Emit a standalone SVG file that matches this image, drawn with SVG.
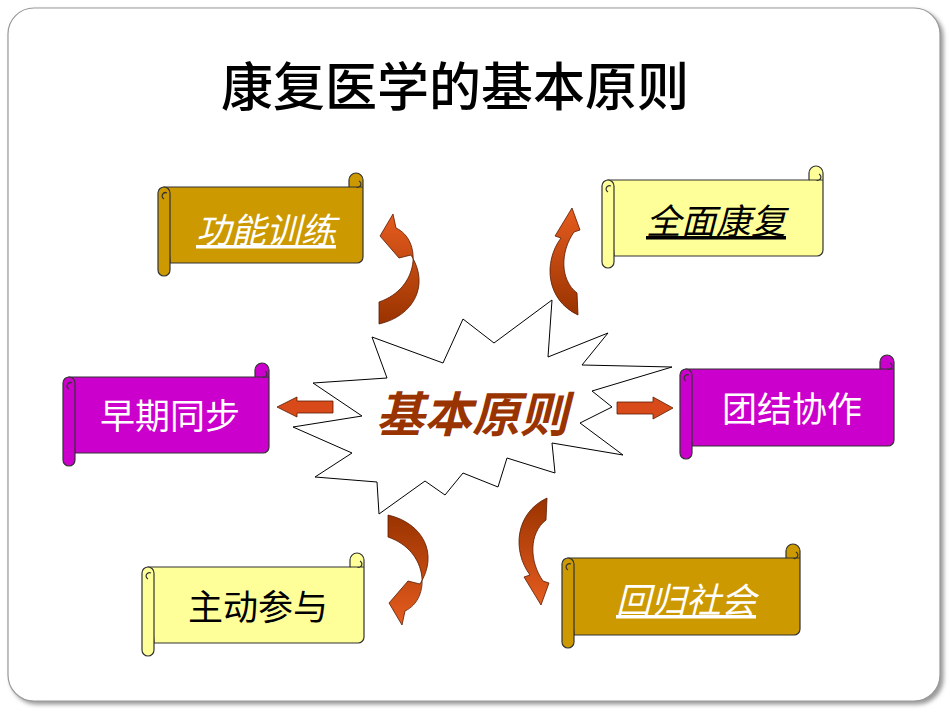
<svg xmlns="http://www.w3.org/2000/svg" width="950" height="713" viewBox="0 0 950 713">
<defs>
<linearGradient id="ga" x1="0" y1="1" x2="0" y2="0"><stop offset="0" stop-color="#993300"/><stop offset="1" stop-color="#E65C1F"/></linearGradient>
<filter id="sh" x="-5%" y="-5%" width="110%" height="110%"><feDropShadow dx="3" dy="3" stdDeviation="2" flood-color="#999"/></filter>
</defs>
<style>
.sc{stroke:#333;stroke-width:1.2}
.gold{fill:#CC9900}.yel{fill:#FFFF99}.mag{fill:#CC00CC}
.t{font-family:"Noto Sans CJK SC","Liberation Sans",sans-serif;font-size:35px;text-anchor:middle}
.it{font-style:italic;text-decoration:underline}
.arr{fill:url(#ga);stroke:#5a1a00;stroke-width:0.8}
.sa{fill:#D94A1A;stroke:#5a1a00;stroke-width:0.8}
</style>
<rect x="8" y="8" width="932" height="693" rx="26" fill="#fff" stroke="#999" stroke-width="1.2" filter="url(#sh)"/>
<text x="455" y="106" font-family="Noto Sans CJK SC,Liberation Sans,sans-serif" font-size="52" font-weight="500" text-anchor="middle" fill="#000">康复医学的基本原则</text>

<g id="star">
<polygon points="372,337 387,378 313,383 362,416 293,427 352,453 315,477 377,482 379,514 425,481 445,495 463,473 498,487 507,458 555,473 552,443 623,455 580,423 612,407 592,391 672,367 582,365 608,333 548,357 552,300 494,343 463,319 443,363" fill="#fff" stroke="#000" stroke-width="1"/>
<text x="472" y="432" font-family="Noto Sans CJK SC,Liberation Sans,sans-serif" font-size="48" font-style="italic" font-weight="bold" fill="#993300" text-anchor="middle">基本原则</text>
</g>

<g id="connectors">
<path class="arr" d="M379,324 C414,316 430,285 411,255 L399,258 L380,236 L393,214 L396,228 C422,240 420,288 379,302 Z"/>
<path class="arr" transform="translate(9,839) scale(1,-1)" d="M379,324 C414,316 430,285 411,255 L399,258 L380,236 L393,214 L396,228 C422,240 420,288 379,302 Z"/>
<path class="arr" d="M578,315 C546,300 543,262 561,238 L555,236 L572,208 L580,230 L574,232 C560,252 560,280 577,293 Z"/>
<path class="arr" transform="translate(-31,813) scale(1,-1)" d="M578,315 C546,300 543,262 561,238 L555,236 L572,208 L580,230 L574,232 C560,252 560,280 577,293 Z"/>
<path class="sa" d="M333,401 L297,401 L297,397 L277,407 L297,417 L297,413 L333,413 Z"/>
<path class="sa" d="M617,402 L653,402 L653,397 L673,408 L653,419 L653,414 L617,414 Z"/>
</g>

<g id="n1">
<path class="gold sc" d="M164,187 L349,187 L349,180 A6,6 0 0 1 363,180 L363,257 A6,6 0 0 1 357,263 L170,263 Z"/>
<path class="gold sc" d="M158,193 A6,6 0 0 1 170,193 L170,270 A6,6 0 0 1 158,270 Z"/>
<path fill="none" class="sc" d="M164,199 A3,3 0 1 1 167,193 M356,187 A3,3 0 1 0 359,181 M349,187 L363,187"/>
<text class="t it" x="266" y="243" fill="#fff">功能训练</text>
</g>
<g id="n2">
<path class="yel sc" d="M608,180 L809,180 L809,173 A6,6 0 0 1 823,173 L823,250 A6,6 0 0 1 817,256 L614,256 Z"/>
<path class="yel sc" d="M602,186 A6,6 0 0 1 614,186 L614,262 A6,6 0 0 1 602,262 Z"/>
<path fill="none" class="sc" d="M608,192 A3,3 0 1 1 611,186 M816,180 A3,3 0 1 0 819,174 M809,180 L823,180"/>
<text class="t it" x="716" y="234" fill="#000">全面康复</text>
</g>
<g id="n3">
<path class="mag sc" d="M69,377 L255,377 L255,370 A6,6 0 0 1 269,370 L269,447 A6,6 0 0 1 263,453 L75,453 Z"/>
<path class="mag sc" d="M63,383 A6,6 0 0 1 75,383 L75,460 A6,6 0 0 1 63,460 Z"/>
<path fill="none" class="sc" d="M69,389 A3,3 0 1 1 72,383 M262,377 A3,3 0 1 0 265,371 M255,377 L269,377"/>
<text class="t" x="170" y="429" fill="#fff">早期同步</text>
</g>
<g id="n4">
<path class="mag sc" d="M686,369 L880,369 L880,362 A6,6 0 0 1 894,362 L894,440 A6,6 0 0 1 888,446 L692,446 Z"/>
<path class="mag sc" d="M680,375 A6,6 0 0 1 692,375 L692,453 A6,6 0 0 1 680,453 Z"/>
<path fill="none" class="sc" d="M686,381 A3,3 0 1 1 689,375 M887,369 A3,3 0 1 0 890,363 M880,369 L894,369"/>
<text class="t" x="792" y="422" fill="#fff">团结协作</text>
</g>
<g id="n5">
<path class="yel sc" d="M148,567 L350,567 L350,560 A6,6 0 0 1 364,560 L364,637 A6,6 0 0 1 358,643 L154,643 Z"/>
<path class="yel sc" d="M142,573 A6,6 0 0 1 154,573 L154,650 A6,6 0 0 1 142,650 Z"/>
<path fill="none" class="sc" d="M148,579 A3,3 0 1 1 151,573 M357,567 A3,3 0 1 0 360,561 M350,567 L364,567"/>
<text class="t" x="258" y="620" fill="#000">主动参与</text>
</g>
<g id="n6">
<path class="gold sc" d="M568,558 L786,558 L786,551 A6,6 0 0 1 800,551 L800,629 A6,6 0 0 1 794,635 L574,635 Z"/>
<path class="gold sc" d="M562,564 A6,6 0 0 1 574,564 L574,642 A6,6 0 0 1 562,642 Z"/>
<path fill="none" class="sc" d="M568,570 A3,3 0 1 1 571,564 M793,558 A3,3 0 1 0 796,552 M786,558 L800,558"/>
<text class="t it" x="686" y="613" fill="#fff">回归社会</text>
</g>
</svg>
